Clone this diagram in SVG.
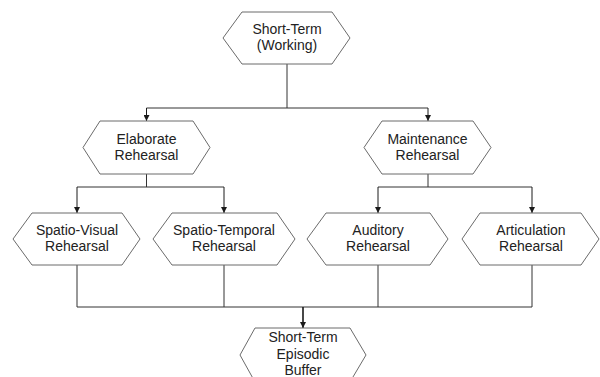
<svg xmlns="http://www.w3.org/2000/svg" width="600" height="377" viewBox="0 0 600 377">
  <defs>
    <marker id="arrow" viewBox="0 0 6 6" refX="6" refY="3" markerWidth="6" markerHeight="6" markerUnits="userSpaceOnUse" orient="auto">
      <path d="M0,0 L6,3 L0,6 Z" fill="#1a1a1a"/>
    </marker>
  </defs>
  <style>
    .hex { fill: #ffffff; stroke: #6b6b6b; stroke-width: 1; }
    .lbl { font-family: "Liberation Sans", Arial, sans-serif; font-size: 14px; fill: #222222; text-anchor: middle; }
    .wire { fill: none; stroke: #333333; stroke-width: 1; }
    .arr { fill: none; stroke: #1a1a1a; stroke-width: 1; marker-end: url(#arrow); }
  </style>
  <rect width="600" height="377" fill="#ffffff"/>

  <g id="connectors">
    <!-- top split -->
    <path class="wire" d="M287,64 V108 M146.5,108 H428"/>
    <path class="arr" d="M146.5,108 V121"/>
    <path class="arr" d="M428,108 V121"/>
    <!-- elaborate split -->
    <path class="wire" d="M146.5,174 V187 M77,187 H224"/>
    <path class="arr" d="M77,187 V213"/>
    <path class="arr" d="M224,187 V213"/>
    <!-- maintenance split -->
    <path class="wire" d="M428,174 V187 M378,187 H532"/>
    <path class="arr" d="M378,187 V213"/>
    <path class="arr" d="M532,187 V213"/>
    <!-- merge into buffer -->
    <path class="wire" d="M77,265 V307 M224,265 V307 M378,265 V307 M532,265 V307 M77,307 H532"/>
    <path class="arr" d="M303,307 V328" style="stroke-width:1.6"/>
  </g>

  <g id="short-term-working">
    <polygon class="hex" points="223,38 242,12 332,12 350,38 332,64 242,64"/>
    <text class="lbl" x="287" y="34">Short-Term</text>
    <text class="lbl" x="287" y="50">(Working)</text>
  </g>

  <g id="elaborate-rehearsal">
    <polygon class="hex" points="83,147.5 100,121 193,121 210,147.5 193,174 100,174"/>
    <text class="lbl" x="146.5" y="144">Elaborate</text>
    <text class="lbl" x="146.5" y="160">Rehearsal</text>
  </g>

  <g id="maintenance-rehearsal">
    <polygon class="hex" points="364,147.5 382,121 473,121 491,147.5 473,174 382,174"/>
    <text class="lbl" x="427.5" y="144">Maintenance</text>
    <text class="lbl" x="427.5" y="160">Rehearsal</text>
  </g>

  <g id="spatio-visual-rehearsal">
    <polygon class="hex" points="13,239 32,213 122,213 140,239 122,265 32,265"/>
    <text class="lbl" x="77" y="235">Spatio-Visual</text>
    <text class="lbl" x="77" y="251">Rehearsal</text>
  </g>

  <g id="spatio-temporal-rehearsal">
    <polygon class="hex" points="153,239 172,213 277,213 295,239 277,265 172,265"/>
    <text class="lbl" x="224" y="235">Spatio-Temporal</text>
    <text class="lbl" x="224" y="251">Rehearsal</text>
  </g>

  <g id="auditory-rehearsal">
    <polygon class="hex" points="307,239 326,213 430,213 448,239 430,265 326,265"/>
    <text class="lbl" x="378" y="235">Auditory</text>
    <text class="lbl" x="378" y="251">Rehearsal</text>
  </g>

  <g id="articulation-rehearsal">
    <polygon class="hex" points="462,239 480,213 581,213 599,239 581,265 480,265"/>
    <text class="lbl" x="531" y="235">Articulation</text>
    <text class="lbl" x="531" y="251">Rehearsal</text>
  </g>

  <g id="short-term-episodic-buffer">
    <polygon class="hex" points="240,355 255,328 350,328 366,355 350,382 255,382"/>
    <text class="lbl" x="303" y="342">Short-Term</text>
    <text class="lbl" x="303" y="359">Episodic</text>
    <text class="lbl" x="303" y="375">Buffer</text>
  </g>
</svg>
